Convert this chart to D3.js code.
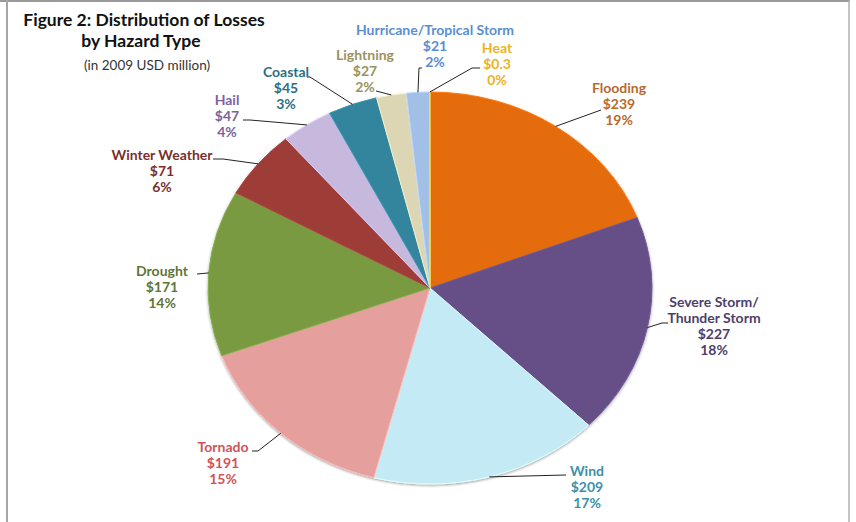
<!DOCTYPE html>
<html>
<head>
<meta charset="utf-8">
<script src="https://cdn.jsdelivr.net/npm/d3@7/dist/d3.min.js"></script>
<style>
  html, body { margin: 0; padding: 0; background: #fff; }
  svg { display: block; }
  text { font-family: Lato, "Open Sans", sans-serif; }
</style>
</head>
<body>
<svg id="chart" width="856" height="522"></svg>
<script>
// Losses by hazard type (2009 USD million), clockwise from 12 o'clock
const hazards = ["Flooding", "Severe Storm/Thunder Storm", "Wind", "Tornado", "Drought",
  "Winter Weather", "Hail", "Coastal", "Lightning", "Hurricane/Tropical Storm", "Heat"];
const losses = [239, 227, 209, 191, 171, 71, 47, 45, 27, 21, 0.3];
const lossLabels = ["$239", "$227", "$209", "$191", "$171", "$71", "$47", "$45", "$27", "$21", "$0.3"];
const shareLabels = ["19%", "18%", "17%", "15%", "14%", "6%", "4%", "3%", "2%", "2%", "0%"];

// Name lines as printed in each label block
const nameLines = [["Flooding"], ["Severe Storm/", "Thunder Storm"], ["Wind"], ["Tornado"], ["Drought"],
  ["Winter Weather"], ["Hail"], ["Coastal"], ["Lightning"], ["Hurricane/Tropical Storm"], ["Heat"]];

// Styling
const sliceColors = ["#E46C0A", "#654F86", "#C4EBF5", "#E5A09E", "#7A9A42",
  "#9E3C39", "#C7B8DD", "#31859C", "#DDD6B4", "#A2C0E6", "#F2C230"];
const labelColors = ["#B8692E", "#4E3F6A", "#3B91AA", "#CF5459", "#5F7535",
  "#7A2F2C", "#7C63A1", "#2E6E7F", "#9A935F", "#5B8ED1", "#EDB21E"];

// Label block layout: centre x, first baseline y, leader bend/end points
const labelLayout = [
  { x: 619, y: 93,  lead: [[601, 110]] },
  { x: 714, y: 307, lead: [[662, 323], [668, 323]] },
  { x: 587, y: 476, lead: [[566, 475]] },
  { x: 223, y: 452, lead: [[258, 451], [252, 451]] },
  { x: 162, y: 276, lead: [[197, 274]] },
  { x: 162, y: 160, lead: [[223, 159], [213, 159]] },
  { x: 227, y: 105, lead: [[250, 120], [243, 120]] },
  { x: 286, y: 77,  lead: [[310, 77], [307, 77]] },
  { x: 365, y: 60,  lead: [[380, 92], [376, 91]] },
  { x: 435, y: 35,  lead: [[419, 68], [422, 68]] },
  { x: 497, y: 53,  lead: [[472, 68], [480, 68]] }
];

const W = 856, H = 522;
const cx = 430, cy = 288, rx = 222, ry = 196;
const lineH = 16;

const svg = d3.select("#chart");

// Frame
svg.append("line").attr("x1", 0).attr("x2", 850).attr("y1", 1).attr("y2", 1)
  .attr("stroke", "#9a9a9a").attr("stroke-width", 2);
svg.append("line").attr("x1", 7).attr("x2", 7).attr("y1", 0).attr("y2", H)
  .attr("stroke", "#a6a6a6").attr("stroke-width", 2);
svg.append("line").attr("x1", 849).attr("x2", 849).attr("y1", 0).attr("y2", H)
  .attr("stroke", "#b0b0b0").attr("stroke-width", 1.5);

// Title
const title = svg.append("g").attr("text-anchor", "middle").attr("fill", "#111");
title.append("text").attr("x", 144).attr("y", 26)
  .attr("font-size", 17.5).attr("font-weight", 700).text("Figure 2: Distribution of Losses");
title.append("text").attr("x", 141).attr("y", 47)
  .attr("font-size", 17.5).attr("font-weight", 700).text("by Hazard Type");
title.append("text").attr("x", 147).attr("y", 70)
  .attr("font-size", 13.5).attr("fill", "#333").text("(in 2009 USD million)");

// Pie
const pie = d3.pie().sort(null).value(d => d).startAngle(0).endAngle(2 * Math.PI);
const arcs = pie(losses);
const arc = d3.arc().innerRadius(0).outerRadius(rx);

const defs = svg.append("defs");
const sh = defs.append("filter").attr("id", "pieShadow")
  .attr("x", "-10%").attr("y", "-10%").attr("width", "120%").attr("height", "120%");
sh.append("feDropShadow").attr("dx", 0).attr("dy", 1.5).attr("stdDeviation", 1.5)
  .attr("flood-color", "#000").attr("flood-opacity", 0.35);

const pieG = svg.append("g")
  .attr("transform", `translate(${cx},${cy}) scale(1,${ry / rx})`)
  .attr("filter", "url(#pieShadow)");

pieG.selectAll("path.slice").data(arcs).join("path")
  .attr("class", "slice")
  .attr("d", arc)
  .attr("fill", (d, i) => sliceColors[i])
  .attr("stroke", (d, i) => d3.color(sliceColors[i]).brighter(0.35))
  .attr("stroke-width", 1)
  .attr("vector-effect", "non-scaling-stroke");

// Point on the elliptical rim at a given pie angle
const rim = a => [cx + rx * Math.sin(a), cy - ry * Math.cos(a)];

// Leader lines
const line = d3.line();
svg.append("g").selectAll("path").data(arcs).join("path")
  .attr("d", (d, i) => line([rim((d.startAngle + d.endAngle) / 2), ...labelLayout[i].lead]))
  .attr("fill", "none").attr("stroke", "#222").attr("stroke-width", 1);

// Label blocks
const labels = svg.append("g").attr("text-anchor", "middle")
  .attr("font-size", 14).attr("font-weight", 700);
hazards.forEach((h, i) => {
  const lines = [...nameLines[i], lossLabels[i], shareLabels[i]];
  const t = labels.append("text").attr("fill", labelColors[i]);
  lines.forEach((s, k) => {
    t.append("tspan").attr("x", labelLayout[i].x).attr("y", labelLayout[i].y + k * lineH).text(s);
  });
});
</script>
</body>
</html>
